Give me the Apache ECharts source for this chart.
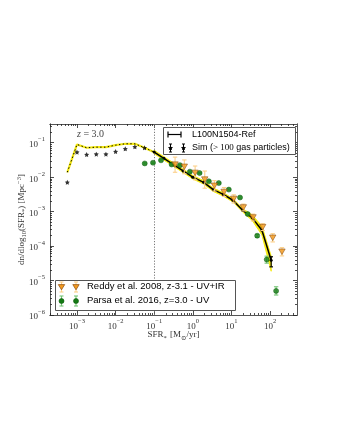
<!DOCTYPE html>
<html><head><meta charset="utf-8">
<script src="https://cdn.jsdelivr.net/npm/echarts@6/dist/echarts.min.js"></script>
<style>html,body{margin:0;padding:0;background:#fff}#c{width:340px;height:440px}</style>
</head><body><div id="c"></div>
<script>
// ---------------- data ----------------
// low-SFR part (below resolution limit): yellow dotted curve and stars
const lowSfr      = [5.62e-4, 1.0e-3, 1.78e-3, 3.16e-3, 5.62e-3, 0.0100, 0.0178, 0.0316, 0.0562, 0.100];
const yellowCurve = [0.0139, 0.0891, 0.0715, 0.0745, 0.0745, 0.0851, 0.0933, 0.0933, 0.0715, 0.0532];
const starSfr     = [5.62e-4, 1.0e-3, 1.78e-3, 3.16e-3, 5.62e-3, 0.0100, 0.0178, 0.0316, 0.0562];
const starVals    = [7.08e-3, 0.0532, 0.0455, 0.0465, 0.0465, 0.0557, 0.0668, 0.0763, 0.0714];
// L100N1504-Ref (resolved part)
const refSfr  = [0.100, 0.178, 0.316, 0.562, 1.00, 1.905, 3.39, 6.17, 10.96, 19.5, 34.7, 61.7, 107.2];
const refVals = [0.0538, 0.0352, 0.0231, 0.0152, 0.0100, 7.08e-3, 4.34e-3, 3.16e-3, 2.14e-3, 1.10e-3, 6.61e-4, 2.88e-4, 3.89e-5];
const refLo   = [0.0480, 0.0314, 0.0206, 0.0136, 8.91e-3, 6.31e-3, 3.87e-3, 2.82e-3, 1.91e-3, 9.80e-4, 5.50e-4, 2.10e-4, 1.86e-5];
const refHi   = [0.0604, 0.0395, 0.0259, 0.0171, 0.0112, 7.94e-3, 4.87e-3, 3.55e-3, 2.40e-3, 1.23e-3, 7.94e-4, 3.80e-4, 5.13e-5];
const refEndErr = [107.2, 2.5e-5, 4.9e-5];
// Reddy et al. 2008
const reddySfr  = [0.347, 0.603, 1.148, 2.04, 3.63, 6.46, 11.48, 20.4, 36.3, 64.6, 117.5, 204];
const reddyVals = [0.0231, 0.0200, 0.0133, 8.51e-3, 5.62e-3, 3.72e-3, 2.34e-3, 1.32e-3, 6.76e-4, 3.55e-4, 1.74e-4, 6.84e-5];
const reddyLo   = [0.0139, 0.0126, 8.39e-3, 4.79e-3, 3.98e-3, 2.76e-3, 1.78e-3, 1.05e-3, 5.37e-4, 2.82e-4, 1.32e-4, 5.19e-5];
const reddyHi   = [0.0383, 0.0317, 0.0211, 0.0151, 7.94e-3, 5.02e-3, 3.08e-3, 1.66e-3, 8.51e-4, 4.47e-4, 2.29e-4, 9.02e-5];
// Parsa et al. 2016
const parsaSfr  = [0.0569, 0.0931, 0.150, 0.283, 0.465, 0.841, 1.50, 2.61, 4.72, 8.57, 16.7, 26.5, 46.5, 82.2, 143.9];
const parsaVals = [0.0251, 0.0263, 0.0309, 0.0234, 0.0224, 0.0145, 0.0132, 7.59e-3, 6.76e-3, 4.37e-3, 2.57e-3, 8.51e-4, 2.0e-4, 4.07e-5, 5.01e-6];
const parsaLo   = [0.0240, 0.0251, 0.0295, 0.0223, 0.0214, 0.0138, 0.0126, 7.24e-3, 6.45e-3, 4.17e-3, 2.45e-3, 8.1e-4, 1.8e-4, 3.2e-5, 3.8e-6];
const parsaHi   = [0.0263, 0.0276, 0.0324, 0.0245, 0.0235, 0.0152, 0.0138, 7.94e-3, 7.08e-3, 4.57e-3, 2.69e-3, 8.9e-4, 2.2e-4, 5.1e-5, 6.6e-6];
// axes
const xMin = 2e-4, xMax = 500, yMin = 1e-6, yMax = 0.35;
const xMajor = [1e-3, 1e-2, 1e-1, 1, 10, 100];
const xMinor = [2e-4,3e-4,4e-4,5e-4,6e-4,7e-4,8e-4,9e-4, 2e-3,3e-3,4e-3,5e-3,6e-3,7e-3,8e-3,9e-3,
  0.02,0.03,0.04,0.05,0.06,0.07,0.08,0.09, 0.2,0.3,0.4,0.5,0.6,0.7,0.8,0.9, 2,3,4,5,6,7,8,9,
  20,30,40,50,60,70,80,90, 200,300,400];
const yMajor = [1e-6, 1e-5, 1e-4, 1e-3, 1e-2, 1e-1];
const yMinor = [2e-6,3e-6,4e-6,5e-6,6e-6,7e-6,8e-6,9e-6, 2e-5,3e-5,4e-5,5e-5,6e-5,7e-5,8e-5,9e-5,
  2e-4,3e-4,4e-4,5e-4,6e-4,7e-4,8e-4,9e-4, 2e-3,3e-3,4e-3,5e-3,6e-3,7e-3,8e-3,9e-3,
  0.02,0.03,0.04,0.05,0.06,0.07,0.08,0.09, 0.2,0.3];

// ---------------- chart ----------------
const SERIF = '"Liberation Serif", "DejaVu Serif", serif';
const SANS = '"Liberation Sans", Arial, sans-serif';
const YEL = '#f5ea14';
const ORANGE = '#f39a1e', ORANGE_EDGE = '#8a4b0c', ORANGE_ERR = '#fcd08a';
const GREEN = '#137a13', GREEN_EDGE = '#0b5a0b', GREEN_ERR = '#74c474';
const pairs = (xs, ys) => xs.map((x, i) => [x, ys[i]]);
const triples = (xs, lo, hi) => xs.map((x, i) => [x, lo[i], hi[i]]);

function powLabel(v) {
  const e = Math.round(Math.log10(v));
  if (Math.abs(Math.log10(v) - e) > 1e-6) return '';
  return '{b|10}{s|' + (e < 0 ? '\u2212' + (-e) : e) + '}';
}
const labelRich = {
  b: { fontFamily: SERIF, fontSize: 9, color: '#333', lineHeight: 13, verticalAlign: 'bottom' },
  s: { fontFamily: SERIF, fontSize: 6.5, color: '#333', lineHeight: 13, verticalAlign: 'top' }
};
const axLine = { show: true, onZero: false, lineStyle: { color: '#555', width: 1 } };
function makeAxis(kind, pos, ticks, len, labels) {
  const isX = kind === 'x';
  return {
    type: 'log', logBase: 10, position: pos,
    min: isX ? xMin : yMin, max: isX ? xMax : yMax,
    axisLine: axLine,
    axisTick: { show: true, inside: true, length: len, customValues: ticks, lineStyle: { color: '#222', width: 0.8 } },
    axisLabel: labels ? { show: true, customValues: isX ? xMajor : yMajor, formatter: powLabel, rich: labelRich,
      margin: isX ? 3 : 5, showMinLabel: true, showMaxLabel: true } : { show: false },
    splitLine: { show: false }, minorTick: { show: false }
  };
}
function errRender(color, cap, lw) {
  return function (params, api) {
    const x = api.value(0), lo = api.value(1), hi = api.value(2);
    const p1 = api.coord([x, lo]), p2 = api.coord([x, hi]);
    const st = { stroke: color, lineWidth: lw };
    return { type: 'group', children: [
      { type: 'line', shape: { x1: p1[0], y1: p1[1], x2: p2[0], y2: p2[1] }, style: st },
      { type: 'line', shape: { x1: p1[0] - cap, y1: p1[1], x2: p1[0] + cap, y2: p1[1] }, style: st },
      { type: 'line', shape: { x1: p2[0] - cap, y1: p2[1], x2: p2[0] + cap, y2: p2[1] }, style: st }
    ] };
  };
}
const bandData = triples(refSfr, refLo, refHi);
const STAR = 'path://M0,-10L2.94,-4.05L9.51,-3.09L4.76,1.55L5.88,8.09L0,5L-5.88,8.09L-4.76,1.55L-9.51,-3.09L-2.94,-4.05Z';
const STAR_PTS = [[0,-10],[2.94,-4.05],[9.51,-3.09],[4.76,1.55],[5.88,8.09],[0,5],[-5.88,8.09],[-4.76,1.55],[-9.51,-3.09],[-2.94,-4.05]];

// legend decoration elements (flat list)
function seg(x1, y1, x2, y2, c, w) {
  return { type: 'line', z: 21, shape: { x1: x1, y1: y1, x2: x2, y2: y2 }, style: { stroke: c, lineWidth: w } };
}
function legErr(x, y1, y2, c, cap, w) {
  return [seg(x, y1, x, y2, c, w), seg(x - cap, y1, x + cap, y1, c, w), seg(x - cap, y2, x + cap, y2, c, w)];
}
const legendEls = [];
[170.5, 183.5].forEach(x => {
  legendEls.push(...legErr(x, 144, 152, '#000', 1.5, 1));
  legendEls.push({ type: 'polygon', z: 22, shape: { points: STAR_PTS.map(p => [x + p[0] * 0.27, 148 + p[1] * 0.27]) }, style: { fill: '#000' } });
});
[61.5, 76].forEach(x => {
  legendEls.push(...legErr(x, 282, 292, ORANGE_ERR, 2, 1.1));
  legendEls.push({ type: 'polygon', z: 22, shape: { points: [[x - 3.2, 284.6], [x + 3.2, 284.6], [x, 289.8]] },
    style: { fill: ORANGE, stroke: ORANGE_EDGE, lineWidth: 0.7 } });
  legendEls.push(...legErr(x, 296, 306, GREEN_ERR, 2, 1.1));
  legendEls.push({ type: 'circle', z: 22, shape: { cx: x, cy: 301, r: 2.5 }, style: { fill: GREEN, stroke: GREEN_EDGE, lineWidth: 0.6 } });
});

const chart = echarts.init(document.getElementById('c'), null, { renderer: 'canvas' });
const option = {
  animation: false,
  backgroundColor: '#fff',
  grid: { left: 50, right: 43, top: 124, bottom: 125, containLabel: false },
  xAxis: [
    Object.assign(makeAxis('x', 'bottom', xMajor, 4, true), {
      name: '{n|SFR}{u|*} {n|[M}{u|\u2299}{n|/yr]}', nameLocation: 'middle', nameGap: 15, nameMoveOverlap: false,
      nameTextStyle: { rich: {
        n: { fontFamily: SERIF, fontSize: 9, color: '#333', lineHeight: 12, verticalAlign: 'top' },
        u: { fontFamily: SERIF, fontSize: 6.5, color: '#333', lineHeight: 12, verticalAlign: 'bottom' } } }
    }),
    makeAxis('x', 'bottom', xMinor, 2, false),
    makeAxis('x', 'top', xMajor, 4, false),
    makeAxis('x', 'top', xMinor, 2, false)
  ],
  yAxis: [
    Object.assign(makeAxis('y', 'left', yMajor, 4, true), {
      name: '{n|dn/dlog}{u|10}{n|(SFR}{u|*}{n|) [Mpc}{s|\u22123}{n|]}', nameLocation: 'middle', nameGap: 22, nameRotate: 90,
      nameMoveOverlap: false,
      nameTextStyle: { rich: {
        n: { fontFamily: SERIF, fontSize: 9, color: '#333', lineHeight: 12, verticalAlign: 'middle' },
        u: { fontFamily: SERIF, fontSize: 6.5, color: '#333', lineHeight: 12, verticalAlign: 'bottom' },
        s: { fontFamily: SERIF, fontSize: 6.5, color: '#333', lineHeight: 12, verticalAlign: 'top' } } }
    }),
    makeAxis('y', 'left', yMinor, 2, false),
    makeAxis('y', 'right', yMajor, 4, false),
    makeAxis('y', 'right', yMinor, 2, false)
  ],
  series: [
    { // yellow uncertainty band of the resolved curve
      type: 'custom', name: 'band', z: 2, clip: true,
      data: bandData, encode: { x: 0, y: [1, 2] },
      renderItem: function (params, api) {
        if (params.dataIndex !== 0) return null;
        const up = bandData.map(d => api.coord([d[0], d[2]]));
        const dn = bandData.map(d => api.coord([d[0], d[1]])).reverse();
        return { type: 'polygon', shape: { points: up.concat(dn) }, style: { fill: YEL, stroke: YEL, lineWidth: 1 } };
      }
    },
    { type: 'line', name: 'lowYellow', z: 3, data: pairs(lowSfr, yellowCurve), symbol: 'none',
      lineStyle: { color: YEL, width: 2.2 }, silent: true,
      markLine: { silent: true, symbol: 'none', label: { show: false },
        lineStyle: { color: '#777', type: [1.2, 1.6], width: 1 }, data: [{ xAxis: 0.1 }] } },
    { type: 'line', name: 'lowBlackDots', z: 4, data: pairs(lowSfr, yellowCurve), symbol: 'none',
      lineStyle: { color: '#000', width: 1, type: [1.4, 2.4] } },
    { type: 'line', name: 'L100N1504-Ref', z: 5, data: pairs(refSfr, refVals), symbol: 'circle', symbolSize: 3,
      itemStyle: { color: '#000' }, lineStyle: { color: '#000', width: 1.5 } },
    { type: 'custom', name: 'refErr', z: 5, data: [refEndErr], encode: { x: 0, y: [1, 2] },
      renderItem: errRender('#000', 1.8, 1.2) },
    { type: 'scatter', name: 'Sim', z: 6, data: pairs(starSfr, starVals), symbol: STAR, symbolSize: 5,
      itemStyle: { color: '#000' } },
    { type: 'custom', name: 'reddyErr', z: 6, data: triples(reddySfr, reddyLo, reddyHi), encode: { x: 0, y: [1, 2] },
      renderItem: errRender(ORANGE_ERR, 2.2, 1.1) },
    { type: 'custom', name: 'parsaErr', z: 6, data: triples(parsaSfr, parsaLo, parsaHi), encode: { x: 0, y: [1, 2] },
      renderItem: errRender(GREEN_ERR, 2.2, 1.1) },
    { type: 'scatter', name: 'Parsa', z: 7, data: pairs(parsaSfr, parsaVals), symbol: 'circle', symbolSize: 5,
      itemStyle: { color: GREEN, borderColor: GREEN_EDGE, borderWidth: 0.6 } },
    { type: 'scatter', name: 'Reddy', z: 8, data: pairs(reddySfr, reddyVals), symbol: 'triangle', symbolRotate: 180,
      symbolSize: [6.4, 5.6], itemStyle: { color: ORANGE, borderColor: ORANGE_EDGE, borderWidth: 0.7 } }
  ],
  graphic: [
    { type: 'text', x: 77, y: 129, z: 20, style: { text: '{i|z} = 3.0', fontFamily: SERIF, fontSize: 10, fill: '#444',
      rich: { i: { fontFamily: SERIF, fontStyle: 'italic', fontSize: 10, fill: '#444' } } } },
    // upper-right legend
    { type: 'rect', z: 20, shape: { x: 163.5, y: 127.5, width: 132, height: 27 }, style: { fill: '#fff', stroke: '#555', lineWidth: 1 } },
    seg(168, 134.5, 181, 134.5, '#000', 1.2), seg(168, 131.5, 168, 137.5, '#000', 1.2), seg(181, 131.5, 181, 137.5, '#000', 1.2),
    { type: 'text', z: 21, x: 192, y: 130, style: { text: 'L100N1504-Ref', fontFamily: SANS, fontSize: 9, fill: '#000' } },
    { type: 'text', z: 21, x: 192, y: 143, style: { text: 'Sim ({m|> 100} gas particles)', fontFamily: SANS, fontSize: 9, fill: '#000',
      rich: { m: { fontFamily: SERIF, fontSize: 9, fill: '#000' } } } },
    // lower-left legend
    { type: 'rect', z: 20, shape: { x: 55.5, y: 280.5, width: 180, height: 30 }, style: { fill: '#fff', stroke: '#555', lineWidth: 1 } },
    { type: 'text', z: 21, x: 87, y: 281.5, style: { text: 'Reddy et al. 2008, z-3.1 - UV+IR', fontFamily: SANS, fontSize: 9.5, fill: '#000' } },
    { type: 'text', z: 21, x: 87, y: 295.5, style: { text: 'Parsa et al. 2016, z=3.0 - UV', fontFamily: SANS, fontSize: 9.5, fill: '#000' } }
  ].concat(legendEls)
};
chart.setOption(option);
</script>
</body></html>
